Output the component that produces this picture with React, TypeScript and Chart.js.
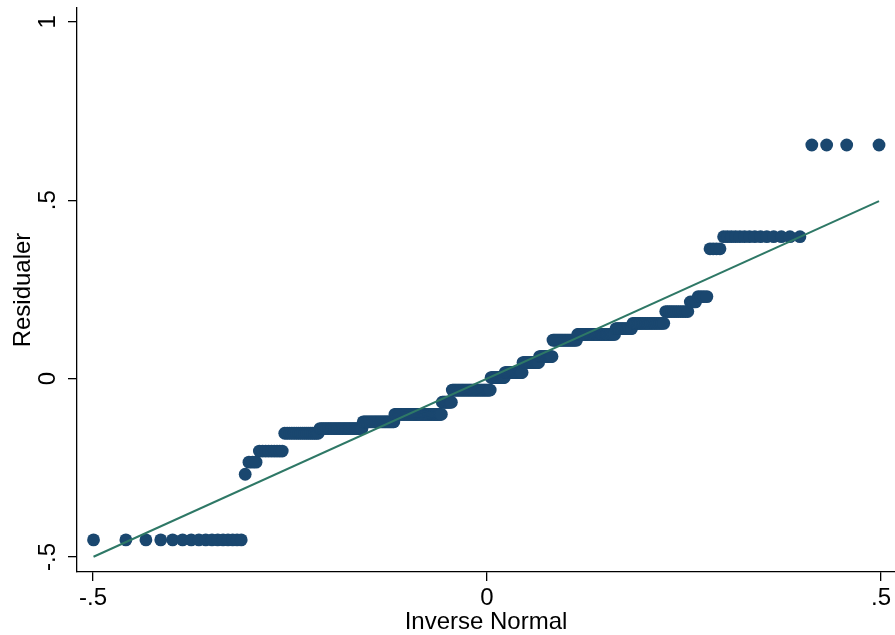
import React, { useEffect, useRef } from "react";
import { Chart, registerables } from "chart.js";

Chart.register(...registerables);

// Sorted residual values (levels) and how many observations sit at each level
const residualLevels = [
  -0.452, -0.268, -0.234, -0.203, -0.153, -0.14, -0.121, -0.1, -0.066, -0.032,
  0.003, 0.017, 0.045, 0.062, 0.108, 0.124, 0.14, 0.155, 0.188, 0.215, 0.23,
  0.364, 0.398, 0.655,
];
const residualCounts = [
  16, 1, 3, 9, 17, 29, 27, 48, 11, 44, 16, 20, 18, 14, 24, 32, 12, 19, 11, 3, 4,
  4, 14, 4,
];

const xTickValues = [-0.5, 0, 0.5];
const yTickValues = [-0.5, 0, 0.5, 1];
const xAxisTitle = "Inverse Normal";
const yAxisTitle = "Residualer";

const FONT = "'Liberation Sans', Arial, Helvetica, sans-serif";

function invNorm(p: number): number {
  const a = [-3.969683028665376e1, 2.209460984245205e2, -2.759285104469687e2, 1.38357751867269e2, -3.066479806614716e1, 2.506628277459239];
  const b = [-5.447609879822406e1, 1.615858368580409e2, -1.556989798598866e2, 6.680131188771972e1, -1.328068155288572e1];
  const c = [-7.784894002430293e-3, -3.223964580411365e-1, -2.400758277161838, -2.549732539343734, 4.374664141464968, 2.938163982698783];
  const d = [7.784695709041462e-3, 3.224671290700398e-1, 2.445134137142996, 3.754408661907416];
  const pl = 0.02425;
  const ph = 1 - pl;
  let q: number, r: number;
  if (p < pl) {
    q = Math.sqrt(-2 * Math.log(p));
    return (((((c[0] * q + c[1]) * q + c[2]) * q + c[3]) * q + c[4]) * q + c[5]) /
      ((((d[0] * q + d[1]) * q + d[2]) * q + d[3]) * q + 1);
  }
  if (p <= ph) {
    q = p - 0.5;
    r = q * q;
    return ((((((a[0] * r + a[1]) * r + a[2]) * r + a[3]) * r + a[4]) * r + a[5]) * q) /
      (((((b[0] * r + b[1]) * r + b[2]) * r + b[3]) * r + b[4]) * r + 1);
  }
  q = Math.sqrt(-2 * Math.log(1 - p));
  return -(((((c[0] * q + c[1]) * q + c[2]) * q + c[3]) * q + c[4]) * q + c[5]) /
    ((((d[0] * q + d[1]) * q + d[2]) * q + d[3]) * q + 1);
}

function fmt(v: number): string {
  if (v === 0) return "0";
  return String(v).replace(/^(-?)0\./, "$1.");
}

function buildQnorm() {
  const ys: number[] = [];
  residualLevels.forEach((lv, k) => {
    for (let j = 0; j < residualCounts[k]; j++) ys.push(lv);
  });
  const n = ys.length;
  const mean = ys.reduce((s, v) => s + v, 0) / n;
  const sd = Math.sqrt(ys.reduce((s, v) => s + (v - mean) * (v - mean), 0) / (n - 1));
  const pts = ys.map((y, i) => ({ x: mean + sd * invNorm((i + 1) / (n + 1)), y }));
  return pts;
}

export default function App() {
  const ref = useRef<HTMLCanvasElement | null>(null);
  useEffect(() => {
    if (!ref.current) return;
    const pts = buildQnorm();
    const x0 = pts[0].x;
    const x1 = pts[pts.length - 1].x;
    const tickFont = { family: FONT, size: 24 };
    const chart = new Chart(ref.current, {
      type: "scatter",
      data: {
        datasets: [
          {
            data: [
              { x: x0, y: x0 },
              { x: x1, y: x1 },
            ],
            showLine: true,
            borderColor: "#2e7866",
            borderWidth: 2,
            pointRadius: 0,
            order: 0,
          } as any,
          {
            data: pts,
            backgroundColor: "#1a476f",
            borderWidth: 0,
            pointRadius: 6.4,
            order: 1,
          },
        ],
      },
      options: {
        animation: false,
        responsive: false,
        maintainAspectRatio: false,
        layout: { autoPadding: false, padding: { top: 8, left: 0, right: 0, bottom: 0 } },
        plugins: { legend: { display: false }, tooltip: { enabled: false } },
        scales: {
          x: {
            type: "linear",
            min: -0.5203,
            max: 0.5178,
            afterBuildTicks: (s: any) => {
              s.ticks = xTickValues.map((v) => ({ value: v }));
            },
            afterFit: (s: any) => {
              s.height = 63;
              s.paddingLeft = 0;
              s.paddingRight = 0;
            },
            ticks: {
              callback: (v: any) => fmt(Number(v)),
              font: tickFont,
              color: "#000",
              padding: 3,
              maxRotation: 0,
              minRotation: 0,
              autoSkip: false,
            },
            grid: {
              display: true,
              drawOnChartArea: false,
              drawTicks: true,
              tickLength: 9,
              color: "#000",
              lineWidth: 1.3,
            },
            border: { display: true, color: "#000", width: 1.3 },
            title: {
              display: true,
              text: xAxisTitle,
              font: tickFont,
              color: "#000",
              padding: { top: 0, bottom: -2 },
            },
          },
          y: {
            type: "linear",
            min: -0.542,
            max: 1.039,
            afterBuildTicks: (s: any) => {
              s.ticks = yTickValues.map((v) => ({ value: v }));
            },
            afterFit: (s: any) => {
              s.width = 77;
              s.paddingTop = 0;
              s.paddingBottom = 0;
            },
            ticks: {
              callback: (v: any) => fmt(Number(v)),
              font: tickFont,
              color: "#000",
              padding: 6,
              minRotation: 90,
              maxRotation: 90,
              crossAlign: "center",
              autoSkip: false,
            },
            grid: {
              display: true,
              drawOnChartArea: false,
              drawTicks: true,
              tickLength: 9,
              color: "#000",
              lineWidth: 1.3,
            },
            border: { display: true, color: "#000", width: 1.3 },
            title: {
              display: true,
              text: yAxisTitle,
              font: tickFont,
              color: "#000",
              padding: { top: 8.6, bottom: 0 },
            },
          },
        },
      },
    });
    return () => chart.destroy();
  }, []);
  return (
    <div style={{ position: "fixed", left: 0, top: 0, width: 895, height: 635, background: "#fff" }}>
      <canvas ref={ref} width={895} height={635} style={{ width: 895, height: 635 }} />
    </div>
  );
}
